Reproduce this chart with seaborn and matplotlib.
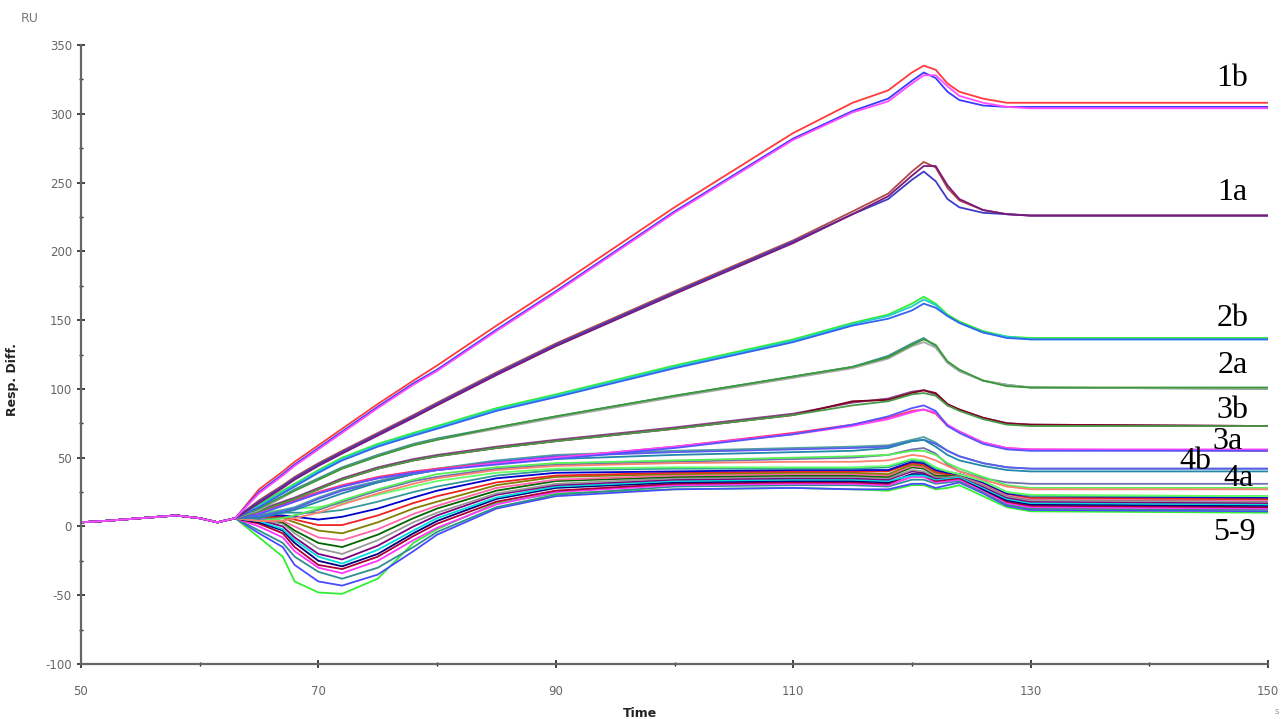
import matplotlib
matplotlib.use("Agg")
import matplotlib.pyplot as plt
import numpy as np
import pandas as pd
import seaborn as sns
from matplotlib.ticker import FixedLocator

# baseline before injection (shared by every cycle)
PRE_TIME = [50, 52, 55, 58, 60, 61.5, 63]
PRE_RU = [3, 4, 6, 8, 6, 3, 6]

# sampled times after injection start
TIME = [65, 67, 68, 70, 72, 75, 78, 80, 85, 90, 100, 110, 115, 118,
        120, 121, 122, 123, 124, 126, 128, 130, 150]

CURVES_1B = [
    [27, 40, 47, 59, 71, 89, 106, 117, 146, 174, 232, 286, 308, 317, 330, 335, 332, 322, 316, 311, 308, 308, 308],
    [25, 38, 45, 57, 69, 87, 104, 114, 143, 171, 229, 282, 302, 311, 324, 330, 326, 316, 310, 306, 305, 305, 305],
    [24, 37, 44, 56, 68, 86, 103, 113, 142, 170, 228, 281, 301, 309, 322, 328, 328, 320, 313, 308, 305, 304, 304],
]
CURVES_1A = [
    [19, 30, 36, 46, 55, 68, 81, 90, 112, 133, 171, 208, 229, 242, 258, 265, 261, 246, 237, 230, 227, 226, 226],
    [18, 29, 35, 45, 54, 67, 80, 89, 111, 132, 170, 207, 227, 238, 252, 258, 251, 238, 232, 228, 227, 226, 226],
    [17, 28, 34, 44, 53, 66, 79, 88, 110, 131, 169, 206, 227, 240, 255, 262, 262, 248, 238, 230, 227, 226, 226],
]
CURVES_2B = [
    [16, 26, 31, 41, 50, 60, 68, 73, 86, 96, 117, 136, 148, 154, 162, 167, 162, 154, 149, 142, 138, 137, 137],
    [15, 25, 30, 40, 49, 59, 67, 72, 85, 95, 116, 135, 147, 153, 160, 165, 161, 153, 148, 141, 138, 136, 136],
    [14, 24, 29, 39, 48, 58, 66, 71, 84, 94, 115, 134, 146, 151, 157, 162, 159, 153, 148, 141, 137, 136, 136],
]
CURVES_2A = [
    [13, 22, 27, 35, 43, 52, 60, 64, 72, 80, 95, 109, 116, 124, 133, 137, 131, 119, 113, 106, 103, 101, 100],
    [12, 21, 26, 34, 42, 51, 59, 63, 71, 79, 94, 108, 115, 122, 131, 134, 130, 119, 113, 106, 103, 101, 100],
    [13, 22, 26, 34, 42, 51, 59, 63, 72, 80, 95, 109, 116, 123, 132, 136, 132, 120, 114, 106, 102, 101, 101],
]
CURVES_3B = [
    [12, 18, 21, 28, 35, 43, 49, 52, 58, 63, 72, 82, 90, 93, 98, 99, 96, 88, 85, 79, 75, 74, 73],
    [11, 17, 20, 27, 34, 42, 48, 51, 57, 62, 71, 81, 91, 92, 97, 99, 97, 89, 85, 79, 75, 74, 73],
    [11, 17, 20, 27, 34, 42, 48, 51, 57, 62, 71, 81, 88, 91, 96, 97, 95, 88, 84, 78, 74, 73, 73],
]
CURVES_3A = [
    [10, 16, 19, 25, 30, 36, 40, 42, 46, 50, 58, 68, 74, 79, 84, 85, 82, 73, 69, 61, 57, 56, 55],
    [10, 15, 18, 24, 29, 35, 39, 41, 46, 50, 58, 67, 73, 78, 83, 85, 83, 74, 69, 61, 57, 56, 56],
    [9, 15, 18, 24, 29, 35, 39, 41, 45, 49, 57, 67, 74, 80, 86, 88, 84, 73, 68, 60, 56, 55, 55],
]
CURVES_4B = [
    [8, 12, 14, 21, 27, 33, 39, 42, 48, 52, 55, 57, 58, 59, 63, 65, 61, 55, 51, 46, 43, 42, 42],
    [7, 11, 13, 20, 26, 32, 38, 41, 47, 51, 54, 56, 57, 58, 62, 63, 60, 55, 51, 46, 43, 42, 42],
    [6, 10, 12, 18, 24, 32, 38, 41, 46, 49, 52, 54, 55, 57, 62, 63, 58, 52, 48, 44, 41, 40, 40],
]
CURVES_4A = [
    [5, 6, 8, 12, 18, 26, 33, 36, 42, 45, 47, 49, 50, 52, 56, 57, 53, 45, 40, 35, 32, 31, 31],
    [4, 6, 8, 13, 19, 27, 34, 38, 43, 46, 48, 50, 51, 52, 55, 55, 52, 46, 42, 36, 30, 28, 28],
    [4, 4, 6, 10, 16, 24, 31, 35, 41, 44, 46, 47, 47, 48, 52, 51, 48, 44, 40, 34, 29, 27, 27],
]
CURVES_5_9 = [
    [-8, -22, -40, -48, -49, -38, -12, -2, 17, 24, 27, 28, 27, 26, 30, 30, 27, 28, 30, 22, 14, 11, 10],
    [-5, -15, -28, -40, -43, -35, -18, -6, 13, 22, 27, 28, 27, 27, 31, 31, 28, 30, 32, 24, 15, 12, 11],
    [-3, -12, -22, -33, -38, -30, -15, -4, 14, 23, 29, 30, 30, 29, 34, 34, 31, 32, 33, 25, 16, 13, 12],
    [0, -8, -18, -30, -34, -25, -10, -1, 16, 25, 30, 31, 31, 30, 36, 36, 32, 33, 34, 26, 17, 14, 13],
    [2, -5, -15, -28, -31, -22, -7, 2, 18, 26, 31, 32, 32, 31, 38, 37, 33, 34, 35, 27, 18, 15, 14],
    [3, -3, -12, -25, -29, -20, -5, 4, 20, 28, 32, 33, 33, 32, 38, 38, 34, 35, 36, 27, 19, 16, 15],
    [4, -2, -10, -22, -27, -17, -3, 6, 21, 29, 33, 34, 34, 33, 37, 37, 34, 35, 36, 28, 20, 17, 16],
    [5, 0, -8, -20, -24, -14, 0, 8, 23, 30, 34, 35, 35, 34, 40, 39, 35, 36, 37, 29, 21, 18, 17],
    [5, 2, -5, -16, -20, -10, 3, 10, 24, 31, 35, 36, 36, 35, 41, 40, 36, 36, 37, 30, 22, 19, 18],
    [6, 3, -3, -12, -15, -6, 6, 13, 26, 33, 36, 37, 37, 36, 43, 42, 37, 37, 38, 31, 23, 20, 19],
    [6, 4, 0, -8, -10, -2, 9, 15, 28, 34, 37, 38, 38, 37, 44, 43, 38, 38, 38, 31, 23, 20, 19],
    [7, 6, 3, -3, -5, 3, 13, 18, 30, 36, 38, 39, 39, 38, 45, 44, 39, 38, 38, 32, 24, 21, 20],
    [7, 7, 5, 1, 1, 8, 17, 22, 32, 37, 39, 40, 40, 40, 46, 45, 40, 38, 38, 32, 24, 21, 20],
    [8, 8, 7, 5, 7, 13, 21, 26, 35, 39, 40, 41, 41, 41, 47, 46, 41, 39, 38, 32, 24, 22, 21],
    [9, 10, 10, 10, 12, 18, 25, 29, 37, 41, 42, 42, 42, 43, 48, 47, 42, 40, 38, 33, 25, 22, 22],
    [10, 12, 13, 14, 17, 23, 29, 33, 39, 42, 43, 43, 43, 44, 49, 48, 43, 40, 38, 33, 25, 23, 22],
]

COLORS_1B = ["#ff3b3b", "#3a3aff", "#ff4dff"]
COLORS_1A = ["#b04848", "#3c3cc8", "#7a1a7a"]
COLORS_2B = ["#33ee33", "#22cccc", "#3366ee"]
COLORS_2A = ["#3f8f8f", "#a8a8a8", "#3a9a3a"]
COLORS_3B = ["#884488", "#800020", "#4a9a4a"]
COLORS_3A = ["#ff3377", "#ff44ff", "#5555ff"]
COLORS_4B = ["#4f9f9f", "#5a5aee", "#2288aa"]
COLORS_4A = ["#7070b0", "#55ee55", "#ff8070"]
COLORS_5_9 = ["#33ee33", "#4a4aff", "#2f8f8f", "#ff33ff", "#aa0033", "#000080",
              "#00dddd", "#800080", "#999999", "#006600", "#ff66aa", "#808000",
              "#ee2222", "#0000cc", "#339999", "#66ff66"]

GROUP_LABELS = ["1b", "1a", "2b", "2a", "3b", "3a", "4b", "4a", "5-9"]
X_TICKS = [50, 70, 90, 110, 130, 150]

groups = [CURVES_5_9, CURVES_4A, CURVES_4B, CURVES_3A, CURVES_3B,
          CURVES_2A, CURVES_2B, CURVES_1A, CURVES_1B]
group_colors = [COLORS_5_9, COLORS_4A, COLORS_4B, COLORS_3A, COLORS_3B,
                COLORS_2A, COLORS_2B, COLORS_1A, COLORS_1B]

rows = []
palette = {}
n = 0
for curves, colors in zip(groups, group_colors):
    for values, color in zip(curves, colors):
        name = f"c{n:02d}"
        palette[name] = color
        for t, v in zip(PRE_TIME + TIME, PRE_RU + values):
            rows.append((name, t, v))
        n += 1
df = pd.DataFrame(rows, columns=["curve", "time", "ru"])

sns.set_theme(style="white")
plt.rcParams["font.family"] = ["DejaVu Sans"]
plt.rcParams["axes.unicode_minus"] = False

fig = plt.figure(figsize=(12.81, 7.19), dpi=100)
ax = fig.add_axes([81 / 1281, 55 / 719, 1187 / 1281, 619 / 719])

sns.lineplot(data=df, x="time", y="ru", hue="curve", palette=palette,
             hue_order=list(palette.keys()), estimator=None, sort=False,
             legend=False, linewidth=1.3, ax=ax)

ax.set_xlim(50, 150)
ax.set_ylim(-100, 350)
ax.xaxis.set_major_locator(FixedLocator(X_TICKS))
ax.xaxis.set_minor_locator(FixedLocator([60, 80, 100, 120, 140]))
ax.yaxis.set_major_locator(FixedLocator(range(-100, 351, 50)))
ax.yaxis.set_minor_locator(FixedLocator(range(-75, 351, 50)))
ax.tick_params(axis="both", which="major", direction="inout", length=6, width=1.2,
               colors="#222222", labelcolor="#666666", labelsize=8.5, left=True, bottom=True)
ax.tick_params(axis="both", which="minor", direction="inout", length=3, width=1,
               colors="#222222", left=True, bottom=True)
ax.tick_params(axis="x", pad=12)
for side in ["top", "right"]:
    ax.spines[side].set_visible(False)
for side in ["left", "bottom"]:
    ax.spines[side].set_color("#666666")
    ax.spines[side].set_linewidth(1.6)

ax.set_xlabel("Time", fontsize=9, fontweight="bold", color="#222222")
ax.set_ylabel("Resp. Diff.", fontsize=9, fontweight="bold", color="#222222")
ax.xaxis.set_label_coords(0.471, -0.07)
ax.yaxis.set_label_coords(-0.052, 0.46)

fig.text(30 / 1281, 1 - 18 / 719, "RU", fontsize=9, color="#777777", ha="center", va="center")
fig.text(1277 / 1281, 1 - 712 / 719, "s", fontsize=6, color="#999999", ha="center", va="center")

label_pos = [(147.0, 326), (147.0, 243), (147.0, 151), (147.0, 117), (147.0, 84),
             (146.6, 62), (143.85, 47), (147.5, 35), (147.2, -4.5)]
for text, (tx, ty) in zip(GROUP_LABELS, label_pos):
    ax.text(tx, ty, text, fontsize=23, family="Liberation Serif", color="black",
            ha="center", va="center", zorder=10)

fig.savefig("out.png", dpi=100)
